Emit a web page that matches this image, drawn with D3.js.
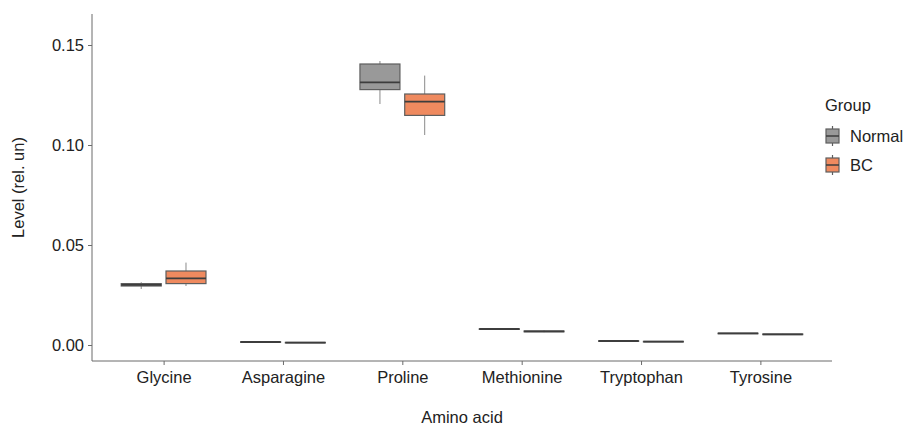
<!DOCTYPE html>
<html>
<head>
<meta charset="utf-8">
<script src="https://cdn.jsdelivr.net/npm/d3@7"></script>
<style>
  html, body { margin: 0; padding: 0; background: #fff; }
  svg { display: block; font-family: "Liberation Sans", Arial, Helvetica, sans-serif; }
</style>
</head>
<body>
<svg id="chart" width="910" height="426"></svg>
<script>
// ---- Data ----
const categories = ["Glycine", "Asparagine", "Proline", "Methionine", "Tryptophan", "Tyrosine"];
const groups = ["Normal", "BC"];
const yTicks = [0.00, 0.05, 0.10, 0.15];

const normalMin = [0.0280, 0.0013, 0.1205, 0.0076, 0.0018, 0.0056];
const normalQ1  = [0.0295, 0.0014, 0.1277, 0.0078, 0.0019, 0.0057];
const normalMed = [0.0301, 0.0015, 0.1313, 0.0080, 0.0020, 0.0058];
const normalQ3  = [0.0307, 0.0016, 0.1405, 0.0081, 0.0021, 0.0059];
const normalMax = [0.0314, 0.0017, 0.1420, 0.0084, 0.0022, 0.0060];

const bcMin = [0.0295, 0.0010, 0.1050, 0.0064, 0.0015, 0.0050];
const bcQ1  = [0.0307, 0.0011, 0.1148, 0.0066, 0.0016, 0.0052];
const bcMed = [0.0333, 0.0012, 0.1217, 0.0068, 0.0017, 0.0053];
const bcQ3  = [0.0370, 0.0013, 0.1255, 0.0070, 0.0018, 0.0055];
const bcMax = [0.0412, 0.0014, 0.1347, 0.0073, 0.0019, 0.0056];

const fills = { Normal: "#999999", BC: "#EF8A5F" };

// ---- Build records ----
const stats = {
  Normal: { min: normalMin, q1: normalQ1, med: normalMed, q3: normalQ3, max: normalMax },
  BC: { min: bcMin, q1: bcQ1, med: bcMed, q3: bcQ3, max: bcMax }
};
const boxes = [];
categories.forEach((c, i) => {
  groups.forEach(g => {
    const s = stats[g];
    boxes.push({ cat: c, group: g, min: s.min[i], q1: s.q1[i], med: s.med[i], q3: s.q3[i], max: s.max[i] });
  });
});

// ---- Layout ----
const mLeft = 92, mRight = 832, mTop = 14, mBottom = 361;
const svg = d3.select("#chart");

const x = d3.scalePoint().domain(categories).range([mLeft, mRight]).padding(0.6);
const step = x.step();
const dodge = d3.scaleBand().domain(groups).range([-0.375 * step, 0.375 * step]);
const boxW = 0.335 * step;

const y = d3.scaleLinear().domain([-0.008, 0.1655]).range([mBottom, mTop]);

const axisColor = "#6b6b6b";
const textColor = "#222";

// Boxes
const g = svg.append("g");
const bx = g.selectAll("g.box").data(boxes).join("g").attr("class", "box")
  .attr("transform", d => `translate(${x(d.cat) + dodge(d.group) + dodge.bandwidth() / 2},0)`);

bx.append("line")
  .attr("x1", 0).attr("x2", 0)
  .attr("y1", d => y(d.max)).attr("y2", d => y(d.q3))
  .attr("stroke", "#8a8a8a").attr("stroke-width", 1);
bx.append("line")
  .attr("x1", 0).attr("x2", 0)
  .attr("y1", d => y(d.q1)).attr("y2", d => y(d.min))
  .attr("stroke", "#8a8a8a").attr("stroke-width", 1);
bx.append("rect")
  .attr("x", -boxW / 2).attr("width", boxW)
  .attr("y", d => y(d.q3)).attr("height", d => Math.max(0.5, y(d.q1) - y(d.q3)))
  .attr("fill", d => fills[d.group])
  .attr("stroke", "#5e5e5e").attr("stroke-width", 1.2);
bx.append("line")
  .attr("x1", -boxW / 2).attr("x2", boxW / 2)
  .attr("y1", d => y(d.med)).attr("y2", d => y(d.med))
  .attr("stroke", "#3d3d3d").attr("stroke-width", 1.8);

// Axes
const yAxis = d3.axisLeft(y).tickValues(yTicks).tickFormat(d3.format(".2f")).tickSize(4).tickPadding(4);
const yg = svg.append("g").attr("transform", `translate(${mLeft},0)`).call(yAxis);
yg.select(".domain").attr("stroke", axisColor).attr("d", `M0,${mTop}V${mBottom}`);
yg.selectAll(".tick line").attr("stroke", axisColor);
yg.selectAll(".tick text").attr("fill", textColor).style("font-size", "16.5px");

const xAxis = d3.axisBottom(x).tickSize(4).tickPadding(6);
const xg = svg.append("g").attr("transform", `translate(0,${mBottom})`).call(xAxis);
xg.select(".domain").attr("stroke", axisColor).attr("d", `M${mLeft},0H${mRight}`);
xg.selectAll(".tick line").attr("stroke", axisColor);
xg.selectAll(".tick text").attr("fill", textColor).style("font-size", "16.5px");

// Axis titles
svg.append("text")
  .attr("x", (mLeft + mRight) / 2).attr("y", 423)
  .attr("text-anchor", "middle").attr("fill", textColor)
  .style("font-size", "16.5px").text("Amino acid");
svg.append("text")
  .attr("transform", `translate(24,${(mTop + mBottom) / 2}) rotate(-90)`)
  .attr("text-anchor", "middle").attr("fill", textColor)
  .style("font-size", "16.5px").text("Level (rel. un)");

// Legend
const lg = svg.append("g").attr("transform", "translate(825,0)");
lg.append("text").attr("x", 0).attr("y", 111).attr("fill", textColor)
  .style("font-size", "16.5px").text("Group");
const items = lg.selectAll("g.item").data(groups).join("g").attr("class", "item")
  .attr("transform", (d, i) => `translate(0,${136 + i * 29})`);
items.append("line").attr("x1", 7.5).attr("x2", 7.5).attr("y1", -10).attr("y2", 10)
  .attr("stroke", "#5e5e5e").attr("stroke-width", 1.2);
items.append("rect").attr("x", 1).attr("y", -7).attr("width", 13).attr("height", 14)
  .attr("fill", d => fills[d]).attr("stroke", "#5e5e5e").attr("stroke-width", 1.2);
items.append("line").attr("x1", 1).attr("x2", 14).attr("y1", 0).attr("y2", 0)
  .attr("stroke", "#3d3d3d").attr("stroke-width", 1.5);
items.append("text").attr("x", 25).attr("y", 6).attr("fill", textColor)
  .style("font-size", "16.5px").text(d => d);
</script>
</body>
</html>
